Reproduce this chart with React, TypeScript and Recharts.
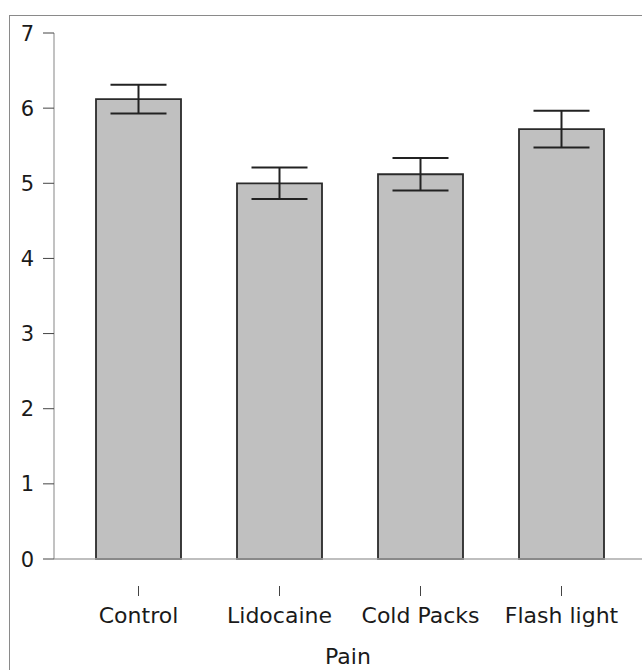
import React from 'react';
import { BarChart, Bar, XAxis, YAxis, ErrorBar } from 'recharts';

const groups = ['Control', 'Lidocaine', 'Cold Packs', 'Flash light'];
const means = [6.12, 5.0, 5.12, 5.72];
const errors = [0.19, 0.21, 0.215, 0.245];
const yTicks = [0, 1, 2, 3, 4, 5, 6, 7];

const data = groups.map((g, i) => ({ group: g, pain: means[i], err: errors[i] }));

const font = '"DejaVu Sans", sans-serif';

const XTick = (props: any) => {
  const { x, y, payload } = props;
  return (
    <g>
      <line x1={x} x2={x} y1={y + 27} y2={y + 37} stroke="#444" strokeWidth={1} />
      <text x={x} y={y + 64} textAnchor="middle" fontSize={22} fill="#1a1a1a" fontFamily={font}>
        {payload.value}
      </text>
    </g>
  );
};

const YTick = (props: any) => {
  const { x, y, payload } = props;
  return (
    <text x={x} y={y + 7.5} textAnchor="end" fontSize={21} fill="#1a1a1a" fontFamily={font}>
      {payload.value}
    </text>
  );
};

export default function App() {
  return (
    <div style={{ position: 'absolute', left: 0, top: 0, width: 642, height: 670, overflow: 'hidden', background: '#fff' }}>
      <div
        style={{
          position: 'absolute',
          left: 9,
          top: 15,
          width: 700,
          height: 700,
          borderLeft: '1.5px solid #8a8a8a',
          borderTop: '1.5px solid #8a8a8a',
        }}
      />
      <div style={{ position: 'absolute', left: 0, top: 0 }}>
        <BarChart
          width={642}
          height={670}
          data={data}
          margin={{ top: 33, right: 0, left: 0, bottom: 0 }}
          barCategoryGap={28}
        >
          <XAxis
            dataKey="group"
            height={111}
            axisLine={{ stroke: '#aaa', strokeWidth: 1.5 }}
            tickLine={false}
            tickSize={0}
            tickMargin={0}
            tick={<XTick />}
            padding={{ left: 14, right: 10 }}
            label={{ value: 'Pain', position: 'insideBottom', offset: 6, fontSize: 22, fill: '#1a1a1a', fontFamily: font }}
          />
          <YAxis
            width={54}
            domain={[0, 7]}
            ticks={yTicks}
            interval={0}
            axisLine={{ stroke: '#999', strokeWidth: 1.2 }}
            tickLine={{ stroke: '#444' }}
            tickSize={11}
            tickMargin={9}
            tick={<YTick />}
          />
          <Bar dataKey="pain" fill="#c0c0c0" stroke="#2a2a2a" strokeWidth={1.8} isAnimationActive={false}>
            <ErrorBar dataKey="err" width={28} stroke="#222" strokeWidth={2} isAnimationActive={false} />
          </Bar>
        </BarChart>
      </div>
    </div>
  );
}
